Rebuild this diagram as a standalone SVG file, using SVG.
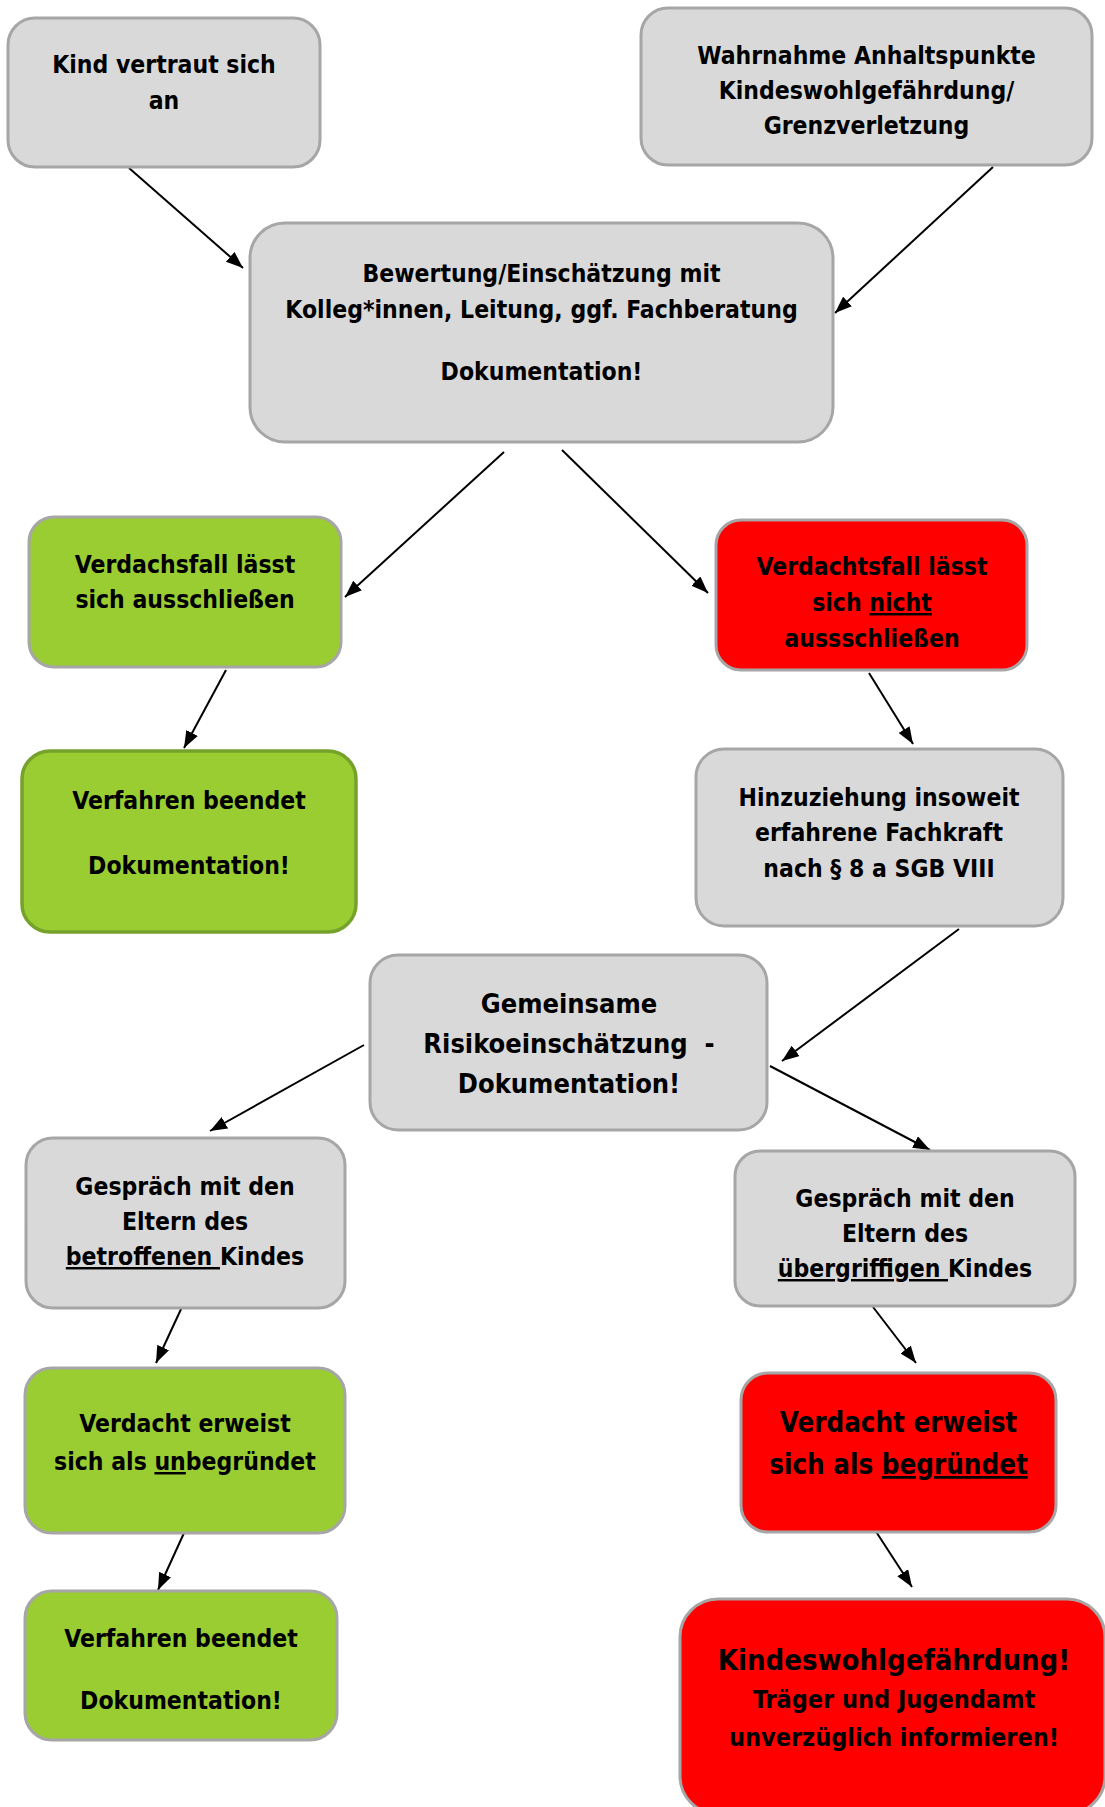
<svg xmlns="http://www.w3.org/2000/svg" width="1105" height="1807" viewBox="0 0 1105 1807">
<style>
text{font-family:"DejaVu Sans Condensed","DejaVu Sans",sans-serif;font-stretch:condensed;font-weight:bold;fill:#000;text-anchor:middle;font-size:24.5px}
.g{fill:#d9d9d9;stroke:#a6a6a6;stroke-width:3}
.gr{fill:#9acd32;stroke:#a6a6a6;stroke-width:3}
.grd{fill:#9acd32;stroke:#76a12b;stroke-width:3.5}
.r{fill:#ff0000;stroke:#a6a6a6;stroke-width:3}
.u{text-decoration:underline}
.big{font-size:27px}
.big2{font-size:27.5px}
.huge{font-size:29px}
.mid{font-size:25px}
#connectors line{stroke:#000;stroke-width:2;marker-end:url(#ah)}
</style>
<defs>
<marker id="ah" markerUnits="userSpaceOnUse" markerWidth="17" markerHeight="13" refX="17" refY="6.5" orient="auto">
<path d="M0,0 L17,6.5 L0,13 z" fill="#000"/>
</marker>
</defs>
<rect width="1105" height="1807" fill="#fff"/>
<g id="connectors">
<line x1="129" y1="168" x2="243" y2="268"/>
<line x1="993" y1="167" x2="835" y2="313"/>
<line x1="504" y1="452" x2="345" y2="597"/>
<line x1="226" y1="670" x2="184" y2="748"/>
<line x1="562" y1="450" x2="708" y2="593"/>
<line x1="869" y1="673" x2="913" y2="744"/>
<line x1="959" y1="929" x2="782" y2="1061"/>
<line x1="364" y1="1045" x2="210" y2="1131"/>
<line x1="770" y1="1066" x2="930" y2="1150"/>
<line x1="182" y1="1307" x2="156" y2="1363"/>
<line x1="873" y1="1307" x2="916" y2="1363"/>
<line x1="184" y1="1533" x2="158" y2="1590"/>
<line x1="873" y1="1527" x2="912" y2="1587"/>
</g>
<g id="n1"><rect class="g" x="8" y="18" width="312" height="149" rx="27"/>
<text x="164" y="73">Kind vertraut sich</text><text x="164" y="109">an</text></g>
<g id="n2"><rect class="g" x="641" y="8" width="451" height="157" rx="27"/>
<text x="866.5" y="64">Wahrnahme Anhaltspunkte</text><text x="866.5" y="99">Kindeswohlgefährdung/</text><text x="866.5" y="134">Grenzverletzung</text></g>
<g id="n3"><rect class="g" x="250" y="223" width="583" height="219" rx="35"/>
<text x="541.5" y="282">Bewertung/Einschätzung mit</text><text x="541.5" y="318">Kolleg*innen, Leitung, ggf. Fachberatung</text><text x="541.5" y="380">Dokumentation!</text></g>
<g id="n4"><rect class="gr" x="29" y="517" width="312" height="150" rx="25"/>
<text x="185" y="573">Verdachsfall lässt</text><text x="185" y="608">sich ausschließen</text></g>
<g id="n5"><rect class="grd" x="22" y="751" width="334" height="181" rx="28"/>
<text x="189" y="809">Verfahren beendet</text><text x="189" y="874">Dokumentation!</text></g>
<g id="n6"><rect class="r" x="716" y="520" width="311" height="150" rx="25"/>
<text x="872" y="575">Verdachtsfall lässt</text><text x="872" y="611">sich <tspan class="u">nicht</tspan></text><text x="872" y="647">aussschließen</text></g>
<g id="n7"><rect class="g" x="696" y="749" width="367" height="177" rx="28"/>
<text x="879" y="806">Hinzuziehung insoweit</text><text x="879" y="841">erfahrene Fachkraft</text><text x="879" y="877">nach § 8 a SGB VIII</text></g>
<g id="n8"><rect class="g" x="370" y="955" width="397" height="175" rx="28"/>
<text class="big" x="569" y="1013">Gemeinsame</text><text class="big" x="569" y="1053" xml:space="preserve">Risikoeinschätzung  -</text><text class="big" x="569" y="1093">Dokumentation!</text></g>
<g id="n9"><rect class="g" x="26" y="1138" width="319" height="170" rx="27"/>
<text x="185" y="1195">Gespräch mit den</text><text x="185" y="1230">Eltern des</text><text x="185" y="1265"><tspan class="u">betroffenen </tspan>Kindes</text></g>
<g id="n10"><rect class="g" x="735" y="1151" width="340" height="155" rx="25"/>
<text x="905" y="1207">Gespräch mit den</text><text x="905" y="1242">Eltern des</text><text x="905" y="1277"><tspan class="u">übergriffigen </tspan>Kindes</text></g>
<g id="n11"><rect class="gr" x="25" y="1368" width="320" height="165" rx="27"/>
<text x="185" y="1432">Verdacht erweist</text><text x="185" y="1470">sich als <tspan class="u">un</tspan>begründet</text></g>
<g id="n12"><rect class="gr" x="25" y="1591" width="312" height="149" rx="27"/>
<text x="181" y="1647">Verfahren beendet</text><text x="181" y="1709">Dokumentation!</text></g>
<g id="n13"><rect class="r" x="741" y="1373" width="315" height="159" rx="27"/>
<text class="big2" x="898.5" y="1432">Verdacht erweist</text><text class="big2" x="898.5" y="1474">sich als <tspan class="u">begründet</tspan></text></g>
<g id="n14"><rect class="r" x="680" y="1599" width="425" height="215" rx="38"/>
<text class="huge" x="894" y="1670">Kindeswohlgefährdung!</text><text class="mid" x="894" y="1708">Träger und Jugendamt</text><text class="mid" x="894" y="1746">unverzüglich informieren!</text></g>
</svg>
